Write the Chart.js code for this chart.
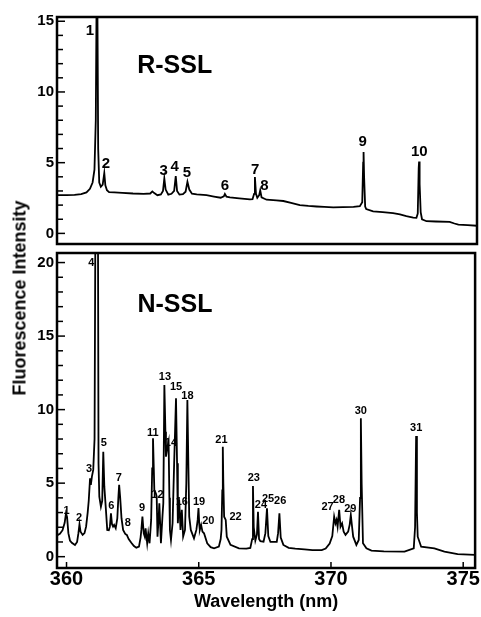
<!DOCTYPE html>
<html><head><meta charset="utf-8">
<script src="https://cdn.jsdelivr.net/npm/chart.js@4.4.0/dist/chart.umd.min.js"></script>
<style>
html,body{margin:0;padding:0;background:#fff;width:481px;height:617px;overflow:hidden;}
#c1{position:absolute;left:0;top:0;}
#c2{position:absolute;left:0;top:240px;}
#ytitle{position:absolute;left:20px;top:298px;transform:translate(-50%,-50%) rotate(-90deg);white-space:nowrap;font:bold 18px "Liberation Sans",Arial,sans-serif;color:#000;}
</style></head>
<body>
<canvas id="c1" width="481" height="256"></canvas>
<canvas id="c2" width="481" height="377"></canvas>
<div id="ytitle">Fluorescence Intensity</div>
<script>
// ---------- data ----------
const xTicks = [360, 365, 370, 375];
const topYTicks = [0, 5, 10, 15];
const bottomYTicks = [0, 5, 10, 15, 20];
const xAxisTitle = 'Wavelength (nm)';
const topName = 'R-SSL';
const bottomName = 'N-SSL';

// R-SSL spectrum
const topWavelength = [359.64,360.00,360.30,360.55,360.75,360.88,360.98,361.05,361.10,361.13,361.16,361.19,361.23,361.29,361.36,361.42,361.46,361.52,361.60,361.80,362.10,362.50,362.90,363.15,363.23,363.30,363.42,363.55,363.63,363.68,363.73,363.83,363.95,364.05,364.11,364.16,364.25,364.38,364.48,364.55,364.62,364.72,364.90,365.27,365.55,365.80,365.92,365.96,366.02,366.15,366.50,366.90,367.00,367.06,367.09,367.13,367.18,367.25,367.29,367.34,367.45,367.53,367.90,368.16,368.45,368.78,369.10,369.41,369.70,370.04,370.40,370.80,371.04,371.13,371.165,371.18,371.20,371.24,371.28,371.54,371.90,372.29,372.55,372.79,373.05,373.17,373.22,373.255,373.27,373.29,373.33,373.38,373.55,373.90,374.42,374.60,374.75,375.10,375.45];
const topIntensity = [2.70,2.70,2.72,2.78,2.90,3.15,3.60,4.50,8.00,16.5,16.5,6.00,3.60,3.30,3.45,4.27,3.40,3.05,2.92,2.90,2.86,2.82,2.80,2.82,2.97,2.85,2.70,2.76,3.00,3.88,3.10,2.74,2.80,3.00,4.06,3.00,2.74,2.78,2.95,3.65,3.10,2.81,2.76,2.70,2.60,2.52,2.62,2.79,2.60,2.55,2.48,2.40,2.42,2.80,3.98,2.80,2.52,2.70,3.05,2.55,2.45,2.38,2.34,2.29,2.15,2.00,1.94,1.90,1.87,1.84,1.86,1.88,1.92,2.20,5.00,5.76,4.00,1.90,1.72,1.56,1.50,1.43,1.35,1.22,1.12,1.10,1.40,4.60,5.08,3.50,1.50,1.00,0.86,0.84,0.82,0.70,0.62,0.58,0.54];

// N-SSL spectrum
const bottomWavelength = [359.64,359.75,359.85,359.93,359.98,360.02,360.07,360.13,360.20,360.32,360.40,360.45,360.49,360.53,360.61,360.68,360.74,360.80,360.84,360.89,360.92,360.96,361.01,361.06,361.09,361.19,361.21,361.24,361.30,361.35,361.39,361.43,361.49,361.54,361.60,361.64,361.68,361.72,361.76,361.80,361.86,361.92,361.96,361.99,362.03,362.08,362.14,362.22,362.28,362.35,362.45,362.55,362.64,362.74,362.80,362.83,362.87,362.92,362.96,362.99,363.05,363.09,363.14,363.20,363.24,363.27,363.30,363.32,363.38,363.41,363.44,363.48,363.51,363.57,363.63,363.66,363.70,363.74,363.76,363.82,363.86,363.89,363.91,363.95,364.01,364.07,364.14,364.18,364.21,364.26,364.31,364.36,364.41,364.48,364.53,364.57,364.61,364.64,364.70,364.82,364.91,364.96,364.99,365.02,365.04,365.09,365.14,365.20,365.32,365.45,365.58,365.76,365.83,365.86,365.89,365.91,365.93,365.96,366.02,366.06,366.20,366.52,366.80,366.95,367.02,367.05,367.08,367.14,367.20,367.24,367.28,367.33,367.45,367.52,367.58,367.63,367.71,367.95,368.00,368.05,368.10,368.20,368.40,368.65,369.00,369.30,369.65,369.80,369.95,370.05,370.12,370.17,370.21,370.25,370.31,370.36,370.42,370.48,370.55,370.65,370.71,370.75,370.80,370.84,370.96,371.05,371.10,371.13,371.16,371.21,371.34,371.53,372.00,372.78,373.13,373.18,373.22,373.25,373.28,373.41,373.91,374.29,374.79,375.45];
const bottomIntensity = [1.45,1.55,1.80,2.30,2.95,2.70,1.60,1.10,0.95,0.80,1.00,1.60,2.20,1.70,1.48,1.60,2.04,3.00,3.80,5.33,4.88,5.44,5.90,8.00,22.0,22.0,6.35,4.08,3.40,3.80,7.14,4.76,3.18,1.82,1.80,2.04,2.95,2.20,2.04,2.16,1.93,2.60,4.00,4.88,4.00,2.60,1.82,1.55,1.48,1.20,0.95,0.72,0.61,0.68,1.30,1.82,2.72,1.59,1.36,1.93,0.91,1.59,0.91,2.50,6.00,8.05,6.00,4.54,4.30,4.08,1.36,2.50,3.63,0.91,2.80,3.63,11.68,8.50,6.80,7.48,7.82,4.00,1.82,1.14,2.27,6.35,10.77,6.35,2.27,3.86,1.82,3.18,1.36,1.82,5.00,10.66,6.00,2.72,1.82,1.25,1.82,2.50,3.30,2.20,1.82,2.16,1.70,1.59,0.91,0.65,0.57,0.68,1.20,1.82,4.50,7.48,5.00,2.72,2.50,1.36,0.80,0.57,0.55,0.60,1.20,4.81,2.00,1.10,1.50,3.06,1.20,1.05,1.02,1.60,3.29,1.40,1.00,1.00,1.60,2.95,1.30,0.80,0.60,0.55,0.50,0.45,0.45,0.55,0.90,1.40,2.72,2.27,2.50,2.04,3.18,2.04,2.27,1.70,1.48,1.70,2.20,2.84,2.00,1.36,0.80,1.14,4.00,9.41,5.00,0.91,0.57,0.41,0.36,0.34,0.57,2.00,8.21,3.00,1.36,0.68,0.57,0.34,0.18,0.12];

// peak labels
const topPeakText = ['1','2','3','4','5','6','7','8','9','10'];
const topPeakX = [360.88,361.48,363.66,364.07,364.53,365.96,367.10,367.45,371.15,373.28];
const topPeakY = [14.3,4.9,4.44,4.67,4.27,3.35,4.49,3.35,6.48,5.8];
const bottomPeakText = ['1','2','3','4','5','6','7','8','9','11','12','13','14','15','16','18','19','20','21','22','23','24','25','26','27','28','29','30','31'];
const bottomPeakX = [360.0,360.47,360.85,360.94,361.41,361.69,361.98,362.32,362.86,363.26,363.44,363.72,363.95,364.14,364.36,364.57,365.01,365.36,365.86,366.39,367.08,367.35,367.62,368.08,369.87,370.30,370.73,371.13,373.22];
const bottomPeakY = [3.1,2.61,5.94,19.96,7.76,3.45,5.37,2.27,3.29,8.44,4.2,12.24,7.76,11.56,3.7,10.95,3.7,2.45,7.94,2.72,5.33,3.52,3.9,3.81,3.36,3.86,3.27,9.93,8.73];
const topNameX = 364.07, topNameY = 11.8;
const bottomNameX = 364.1, bottomNameY = 17.1;

// ---------- chart ----------
const FONT = '"Liberation Sans", Arial, Helvetica, sans-serif';
const X_MIN = 359.64, X_MAX = 375.45;

function pts(xs, ys){ return xs.map((x,i)=>({x:x, y:ys[i]})); }

function framePlugin(opts){
  return {
    id: 'frame' + opts.id,
    afterDatasetsDraw(chart){
      const ctx = chart.ctx, a = chart.chartArea;
      const xs = chart.scales.x, ys = chart.scales.y;
      ctx.save();
      ctx.fillStyle = '#000';
      ctx.textAlign = 'center';
      ctx.textBaseline = 'middle';
      ctx.font = 'bold ' + opts.labelSize + 'px ' + FONT;
      opts.text.forEach((t,i)=>{
        ctx.fillText(t, xs.getPixelForValue(opts.lx[i]), ys.getPixelForValue(opts.ly[i]));
      });
      ctx.font = 'bold 25px ' + FONT;
      ctx.fillText(opts.name, xs.getPixelForValue(opts.nx), ys.getPixelForValue(opts.ny));
      ctx.strokeStyle = '#000';
      ctx.lineWidth = 2.5;
      ctx.strokeRect(a.left, a.top, a.right - a.left, a.bottom - a.top);
      ctx.lineWidth = 1.5;
      const maxT = opts.yTicks[opts.yTicks.length-1];
      for (let v = 0; v <= maxT; v++){
        const y = ys.getPixelForValue(v);
        const len = (v % 5 === 0) ? 8 : 6;
        ctx.beginPath(); ctx.moveTo(a.left, y); ctx.lineTo(a.left + len, y); ctx.stroke();
      }
      if (opts.xTickMarks){
        xTicks.forEach(v=>{
          const x = xs.getPixelForValue(v);
          ctx.beginPath(); ctx.moveTo(x, a.bottom); ctx.lineTo(x, a.bottom - 6); ctx.stroke();
        });
      }
      ctx.restore();
    }
  };
}

function yScale(min, max, ticks){
  return {
    type: 'linear', min: min, max: max,
    afterFit: s => { s.width = 57; },
    afterBuildTicks: s => { s.ticks = ticks.map(v=>({value:v})); },
    grid: {display:false, drawTicks:false},
    border: {display:false},
    ticks: {color:'#000', padding:3, font:{family:FONT, weight:'bold', size:15}}
  };
}

new Chart(document.getElementById('c1'), {
  type: 'line',
  data: {datasets: [{data: pts(topWavelength, topIntensity), borderColor:'#000', borderWidth:1.8, pointRadius:0, tension:0, fill:false}]},
  options: {
    responsive:false, animation:false, events:[],
    layout: {padding:{top:17, right:4, bottom:3, left:0}},
    plugins: {legend:{display:false}, tooltip:{enabled:false}},
    scales: {
      x: {type:'linear', min:X_MIN, max:X_MAX, display:false},
      y: yScale(-0.75, 15.3, topYTicks)
    }
  },
  plugins: [framePlugin({id:'top', text:topPeakText, lx:topPeakX, ly:topPeakY, labelSize:15, name:topName, nx:topNameX, ny:topNameY, yTicks:topYTicks, xTickMarks:false})]
});

new Chart(document.getElementById('c2'), {
  type: 'line',
  data: {datasets: [{data: pts(bottomWavelength, bottomIntensity), borderColor:'#000', borderWidth:1.8, pointRadius:0, tension:0, fill:false}]},
  options: {
    responsive:false, animation:false, events:[],
    layout: {padding:{top:13, right:4, bottom:0, left:0}},
    plugins: {legend:{display:false}, tooltip:{enabled:false}},
    scales: {
      x: {
        type:'linear', min:X_MIN, max:X_MAX,
        afterFit: s => { s.height = 49; },
        afterBuildTicks: s => { s.ticks = xTicks.map(v=>({value:v})); },
        grid:{display:false, drawTicks:false},
        border:{display:false},
        ticks:{color:'#000', padding:1, maxRotation:0, font:{family:FONT, weight:'bold', size:20, lineHeight:1}},
        title:{display:true, text:xAxisTitle, color:'#000', padding:{top:0,bottom:4}, font:{family:FONT, weight:'bold', size:18}}
      },
      y: yScale(-0.77, 20.65, bottomYTicks)
    }
  },
  plugins: [framePlugin({id:'bot', text:bottomPeakText, lx:bottomPeakX, ly:bottomPeakY, labelSize:11, name:bottomName, nx:bottomNameX, ny:bottomNameY, yTicks:bottomYTicks, xTickMarks:true})]
});
</script>
</body></html>
